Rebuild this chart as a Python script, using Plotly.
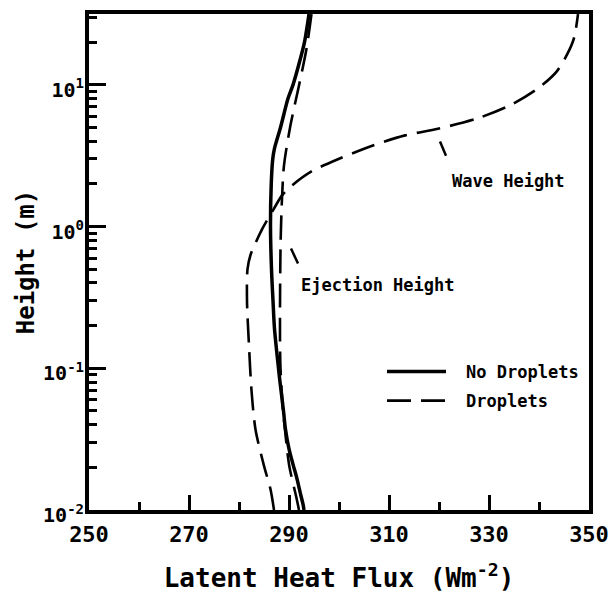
import plotly.graph_objects as go

# ---- data ----
# No droplets (solid)
nd_height = [0.01, 0.011, 0.013, 0.0166, 0.021, 0.027, 0.037, 0.05, 0.08, 0.1, 0.19, 0.3, 0.5, 1.0, 2.0, 3.0, 3.56, 5.0, 8.0, 10.0, 15.4, 20.0, 31.6]
nd_flux = [293.0, 292.8, 292.3, 291.6, 290.8, 290.0, 289.3, 288.9, 288.2, 287.9, 287.1, 286.8, 286.5, 286.3, 286.45, 286.75, 287.1, 288.3, 289.8, 290.8, 292.3, 293.1, 294.0]

# Droplets, ejection-height case (dashed)
ej_height = [0.01, 0.0126, 0.02, 0.027, 0.037, 0.05, 0.1, 0.16, 0.7, 1.58, 2.7, 5.2, 9.9, 18.0, 31.6]
ej_flux = [292.0, 291.4, 290.1, 289.6, 289.2, 288.8, 288.3, 288.2, 288.3, 288.6, 289.0, 290.3, 292.0, 293.5, 294.5]

# Droplets, wave-height case (dashed)
wv_height = [0.01, 0.014, 0.0205, 0.037, 0.07, 0.144, 0.3, 0.5, 0.63, 0.97, 1.34, 1.66, 1.95, 2.45, 3.0, 3.7, 4.4, 4.9, 5.8, 7.2, 9.4, 12.5, 20.3, 31.6]
wv_flux = [287.0, 286.3, 285.0, 283.3, 282.5, 282.0, 281.6, 281.7, 282.3, 284.7, 287.0, 288.6, 290.6, 294.5, 299.9, 306.5, 313.2, 319.8, 327.7, 334.3, 339.7, 343.6, 346.8, 347.8]

x_range = [250, 350]
y_log_range = [-2, 1.5]
y_major_vals = [0.01, 0.1, 1, 10]
y_major_text = ["10<sup>-2</sup>", "10<sup>-1</sup>", "10<sup>0</sup>", "10<sup>1</sup>"]
y_minor_vals = [m * 10 ** e for e in (-2, -1, 0, 1) for m in range(2, 10) if m * 10 ** e <= 31]

# label positions (flux, log10 height) and pointer strokes (flux, height)
wave_label = (322.2, 0.325)
eject_label = (291.9, -0.41)
wave_ptr = [(320.2, 10 ** 0.60), (321.4, 10 ** 0.50)]
eject_ptr = [(290.4, 10 ** -0.155), (291.8, 10 ** -0.26)]

FONT = "DejaVu Sans Mono"
DASH = "24px,10px"
NB = "\u00a0<span style='font-size:8px'>\u00a0</span>"

fig = go.Figure()
fig.add_trace(go.Scatter(
    x=nd_flux, y=nd_height, mode="lines", name=NB + "No Droplets",
    line=dict(color="black", width=3.5, shape="spline", smoothing=0.8),
    legendgroup="a"))
fig.add_trace(go.Scatter(
    x=ej_flux, y=ej_height, mode="lines", name=NB + "Droplets",
    line=dict(color="black", width=2.6, dash=DASH, shape="spline", smoothing=0.8),
    legendgroup="b"))
fig.add_trace(go.Scatter(
    x=wv_flux, y=wv_height, mode="lines", name="Droplets (wave)", showlegend=False,
    line=dict(color="black", width=2.6, dash=DASH, shape="spline", smoothing=0.8),
    legendgroup="b"))

fig.update_layout(
    width=608, height=593,
    margin=dict(l=89, r=19, t=14, b=83),
    paper_bgcolor="white", plot_bgcolor="white",
    font=dict(family=FONT, color="black"),
    legend=dict(x=0.586, y=0.3145, xanchor="left", yanchor="top",
                font=dict(family=FONT, size=17, color="black", weight="bold"),
                bgcolor="rgba(0,0,0,0)", itemwidth=59, tracegroupgap=4),
)
fig.update_xaxes(
    range=x_range, tick0=250, dtick=20, ticks="inside", ticklen=15, tickwidth=3,
    tickcolor="black", showline=True, linewidth=4, linecolor="black", mirror=True,
    showgrid=False, zeroline=False, automargin=False, ticklabelstandoff=2,
    ticklabeloverflow="allow",
    tickfont=dict(family=FONT, size=22, color="black", weight="bold"),
    minor=dict(tick0=250, dtick=10, ticks="inside", ticklen=8, tickwidth=3,
               tickcolor="black", showgrid=False),
    title=dict(text="Latent Heat Flux (Wm<sup>-2</sup>)",
               font=dict(family=FONT, size=26, color="black", weight="bold"), standoff=24),
)
fig.update_yaxes(
    type="log", range=y_log_range, tickvals=y_major_vals, ticktext=y_major_text,
    ticks="inside", ticklen=17, tickwidth=3, tickcolor="black",
    showline=True, linewidth=4, linecolor="black", mirror=True,
    showgrid=False, zeroline=False, automargin=False,
    ticklabelstandoff=-3, ticklabelshift=5, ticklabeloverflow="allow",
    tickfont=dict(family=FONT, size=20, color="black", weight="bold"),
    minor=dict(tickvals=y_minor_vals, ticks="inside", ticklen=8, tickwidth=3,
               tickcolor="black", showgrid=False),
    title=dict(text="Height (m)",
               font=dict(family=FONT, size=24, color="black", weight="bold"), standoff=3),
)

for (xa, ya), (xb, yb) in (wave_ptr, eject_ptr):
    fig.add_shape(type="line", xref="x", yref="y", x0=xa, y0=ya, x1=xb, y1=yb,
                  line=dict(color="black", width=2.5))
fig.add_annotation(x=wave_label[0], y=wave_label[1], xref="x", yref="y", text="Wave Height",
                   showarrow=False, xanchor="left", yanchor="middle",
                   font=dict(family=FONT, size=17, color="black", weight="bold"))
fig.add_annotation(x=eject_label[0], y=eject_label[1], xref="x", yref="y", text="Ejection Height",
                   showarrow=False, xanchor="left", yanchor="middle",
                   font=dict(family=FONT, size=17, color="black", weight="bold"))

fig.write_html("out.html")
